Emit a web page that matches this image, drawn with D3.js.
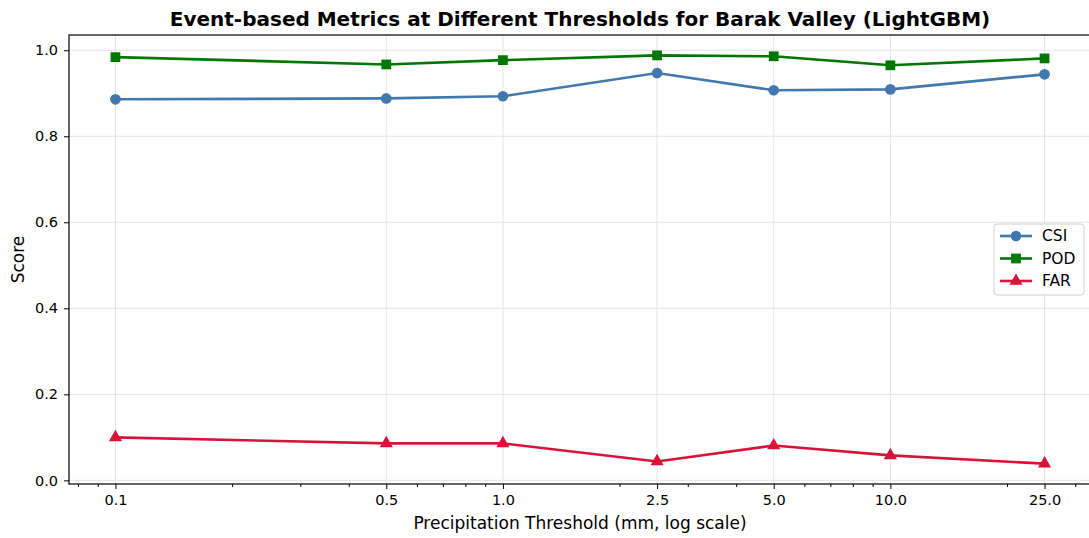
<!DOCTYPE html>
<html><head><meta charset="utf-8">
<script src="https://cdn.jsdelivr.net/npm/d3@7"></script>
<style>body{margin:0;background:#fff}svg{display:block;font-family:"DejaVu Sans",sans-serif}</style>
</head><body><svg id="c" width="1089" height="538"></svg>
<script>
const thresholds = [0.1, 0.5, 1.0, 2.5, 5.0, 10.0, 25.0];
const tickLabels = ["0.1", "0.5", "1.0", "2.5", "5.0", "10.0", "25.0"];
const csi = [0.886, 0.888, 0.893, 0.947, 0.907, 0.909, 0.944];
const pod = [0.984, 0.967, 0.977, 0.988, 0.986, 0.965, 0.981];
const far = [0.100, 0.086, 0.086, 0.044, 0.081, 0.058, 0.039];
const yTicks = [0.0, 0.2, 0.4, 0.6, 0.8, 1.0];

const svg = d3.select("#c");
const L = 69, R = 1091, T = 35, B = 484;
const lx0 = Math.log10(0.1), lx1 = Math.log10(25), pad = (lx1 - lx0) * 0.05;
const x = d3.scaleLog().domain([Math.pow(10, lx0 - pad), Math.pow(10, lx1 + pad)]).range([L, R]);
const allV = csi.concat(pod, far);
const vmin = d3.min(allV), vmax = d3.max(allV), vp = (vmax - vmin) * 0.05;
const y = d3.scaleLinear().domain([vmin - vp, vmax + vp]).range([B, T]);

// grid
const g = svg.append("g");
g.selectAll("line.vx").data(thresholds).join("line")
  .attr("x1", d => x(d)).attr("x2", d => x(d)).attr("y1", T).attr("y2", B)
  .attr("stroke", "#e3e3e3").attr("stroke-width", 1);
g.selectAll("line.hy").data(yTicks).join("line")
  .attr("y1", d => y(d)).attr("y2", d => y(d)).attr("x1", L).attr("x2", R)
  .attr("stroke", "#e3e3e3").attr("stroke-width", 1);

// minor ticks
const minor = [];
[0.01, 0.1, 1, 10].forEach(dec => { for (let k = 2; k <= 9; k++) minor.push(dec * k); });
const minorIn = minor.filter(v => v >= x.domain()[0] && v <= x.domain()[1] && !thresholds.some(t => Math.abs(t - v) < 1e-9));

const xAxis = d3.axisBottom(x).tickValues(thresholds).tickFormat((d, i) => tickLabels[i]).tickSize(5).tickPadding(6);
const xg = svg.append("g").attr("transform", `translate(0,${B})`).call(xAxis);
xg.select(".domain").remove();
xg.selectAll("text").attr("font-size", 14.5).attr("fill", "#000").attr("font-family", "DejaVu Sans");
xg.selectAll("line").attr("stroke", "#000");
svg.append("g").attr("transform", `translate(0,${B})`)
  .call(d3.axisBottom(x).tickValues(minorIn).tickFormat("").tickSize(3))
  .call(s => { s.select(".domain").remove(); s.selectAll("line").attr("stroke", "#000"); });

const yAxis = d3.axisLeft(y).tickValues(yTicks).tickFormat(d3.format(".1f")).tickSize(5).tickPadding(6);
const yg = svg.append("g").attr("transform", `translate(${L},0)`).call(yAxis);
yg.select(".domain").remove();
yg.selectAll("text").attr("font-size", 14.5).attr("fill", "#000").attr("font-family", "DejaVu Sans");
yg.selectAll("line").attr("stroke", "#000");

// spines
svg.append("rect").attr("x", L).attr("y", T).attr("width", R - L).attr("height", B - T)
  .attr("fill", "none").attr("stroke", "#000").attr("stroke-width", 1.2);

const series = [
  {name: "CSI", vals: csi, color: "#4178ae", shape: d3.symbolCircle, size: 90},
  {name: "POD", vals: pod, color: "#007700", shape: d3.symbolSquare, size: 95},
  {name: "FAR", vals: far, color: "#d8133a", shape: d3.symbolTriangle, size: 75},
];
const line = d3.line().x(d => x(d[0])).y(d => y(d[1]));
series.forEach(s => {
  const pts = thresholds.map((t, i) => [t, s.vals[i]]);
  svg.append("path").attr("d", line(pts)).attr("fill", "none").attr("stroke", s.color).attr("stroke-width", 2.6);
  svg.selectAll(null).data(pts).join("path")
    .attr("transform", d => `translate(${x(d[0])},${y(d[1])})`)
    .attr("d", d3.symbol().type(s.shape).size(s.size)).attr("fill", s.color);
});

// title and labels
svg.append("text").attr("x", (L + R) / 2).attr("y", 26).attr("text-anchor", "middle")
  .attr("font-size", 20).attr("font-weight", "bold").text("Event-based Metrics at Different Thresholds for Barak Valley (LightGBM)");
svg.append("text").attr("x", (L + R) / 2).attr("y", 529).attr("text-anchor", "middle")
  .attr("font-size", 17).text("Precipitation Threshold (mm, log scale)");
svg.append("text").attr("transform", `translate(24,${(T + B) / 2}) rotate(-90)`).attr("text-anchor", "middle")
  .attr("font-size", 17).text("Score");

// legend
const lg = svg.append("g").attr("transform", "translate(994,224)");
lg.append("rect").attr("width", 90).attr("height", 71).attr("rx", 3).attr("fill", "#fff").attr("fill-opacity", 0.85)
  .attr("stroke", "#d0d0d0");
series.forEach((s, i) => {
  const yy = 12 + i * 22.5;
  lg.append("line").attr("x1", 6).attr("x2", 38).attr("y1", yy).attr("y2", yy).attr("stroke", s.color).attr("stroke-width", 2.6);
  lg.append("path").attr("transform", `translate(22,${yy})`).attr("d", d3.symbol().type(s.shape).size(s.size)).attr("fill", s.color);
  lg.append("text").attr("x", 48).attr("y", yy + 5).attr("font-size", 15.5).text(s.name);
});
</script></body></html>
